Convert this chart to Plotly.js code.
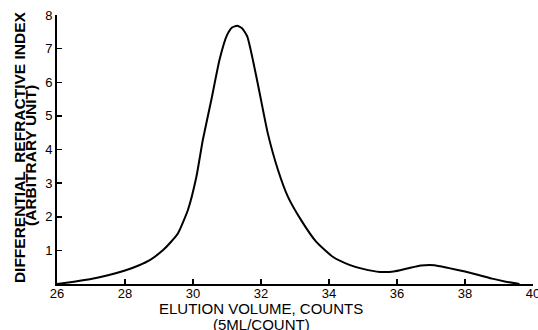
<!DOCTYPE html>
<html><head><meta charset="utf-8">
<script src="https://cdn.plot.ly/plotly-3.0.1.min.js"></script>
<style>html,body{margin:0;padding:0;background:#fff;}#chart{width:538px;height:330px;}</style>
</head><body><div id="chart"></div>
<script>
const elutionVolume = [26.0, 26.5, 27.0, 27.5, 28.0, 28.4, 28.73, 29.12, 29.35, 29.56, 29.85, 30.1, 30.29, 30.54, 30.78, 31.0, 31.15, 31.3, 31.45, 31.6, 31.76, 31.96, 32.2, 32.5, 32.79, 33.18, 33.62, 34.11, 34.6, 35.0, 35.5, 35.9, 36.3, 36.7, 37.1, 37.5, 38.0, 38.4, 38.8, 39.2, 39.6];
const refractiveIndex = [0.0, 0.07, 0.15, 0.26, 0.4, 0.55, 0.71, 1.01, 1.25, 1.51, 2.2, 3.19, 4.29, 5.48, 6.67, 7.4, 7.63, 7.68, 7.6, 7.35, 6.67, 5.68, 4.48, 3.39, 2.6, 1.9, 1.26, 0.81, 0.57, 0.45, 0.36, 0.37, 0.46, 0.55, 0.56, 0.48, 0.37, 0.27, 0.16, 0.07, 0.0];
const xTicks = [26, 28, 30, 32, 34, 36, 38, 40];
const yTicks = [1, 2, 3, 4, 5, 6, 7, 8];
const xTitleLines = ['ELUTION VOLUME, COUNTS', '(5ML/COUNT)'];
const yTitleLines = ['DIFFERENTIAL  REFRACTIVE INDEX', '(ARBITRARY UNIT)'];

const font = "Liberation Sans, Arial, sans-serif";
const trace = {
  x: elutionVolume, y: refractiveIndex, type: 'scatter', mode: 'lines',
  line: {color: '#000', width: 2, shape: 'spline', smoothing: 0.5},
  hoverinfo: 'skip', cliponaxis: false
};
const axisCommon = {
  showgrid: false, zeroline: false, showline: true, linecolor: '#000', linewidth: 2,
  ticks: 'inside', ticklen: 5, tickwidth: 1.5, tickcolor: '#000',
  tickfont: {family: font, size: 13, color: '#000'}, fixedrange: true,
  ticklabeloverflow: 'allow'
};
const layout = {
  width: 538, height: 330,
  margin: {l: 57, r: 5, t: 15, b: 46},
  paper_bgcolor: '#fff', plot_bgcolor: '#fff',
  showlegend: false,
  xaxis: Object.assign({range: [26, 40], tickvals: xTicks, ticktext: xTicks.map(String), ticklabelstandoff: -4}, axisCommon),
  yaxis: Object.assign({range: [0, 8], tickvals: yTicks, ticktext: yTicks.map(String)}, axisCommon),
  annotations: [
    {text: xTitleLines[0], xref: 'paper', yref: 'paper', x: 0.4286, y: -0.0929,
     xanchor: 'center', yanchor: 'middle', showarrow: false,
     font: {family: font, size: 15, color: '#000'}},
    {text: xTitleLines[1], xref: 'paper', yref: 'paper', x: 0.4286, y: -0.1487,
     xanchor: 'center', yanchor: 'middle', showarrow: false,
     font: {family: font, size: 15, color: '#000'}},
    {text: '<b>' + yTitleLines[0] + '</b>', xref: 'paper', yref: 'paper', x: -0.0798, y: 0.509,
     xanchor: 'center', yanchor: 'middle', textangle: -90, showarrow: false,
     font: {family: font, size: 15.5, color: '#000'}},
    {text: '<b>' + yTitleLines[1] + '</b>', xref: 'paper', yref: 'paper', x: -0.0546, y: 0.476,
     xanchor: 'center', yanchor: 'middle', textangle: -90, showarrow: false,
     font: {family: font, size: 15.5, color: '#000'}}
  ]
};
Plotly.newPlot('chart', [trace], layout, {displayModeBar: false, staticPlot: true});
</script></body></html>
